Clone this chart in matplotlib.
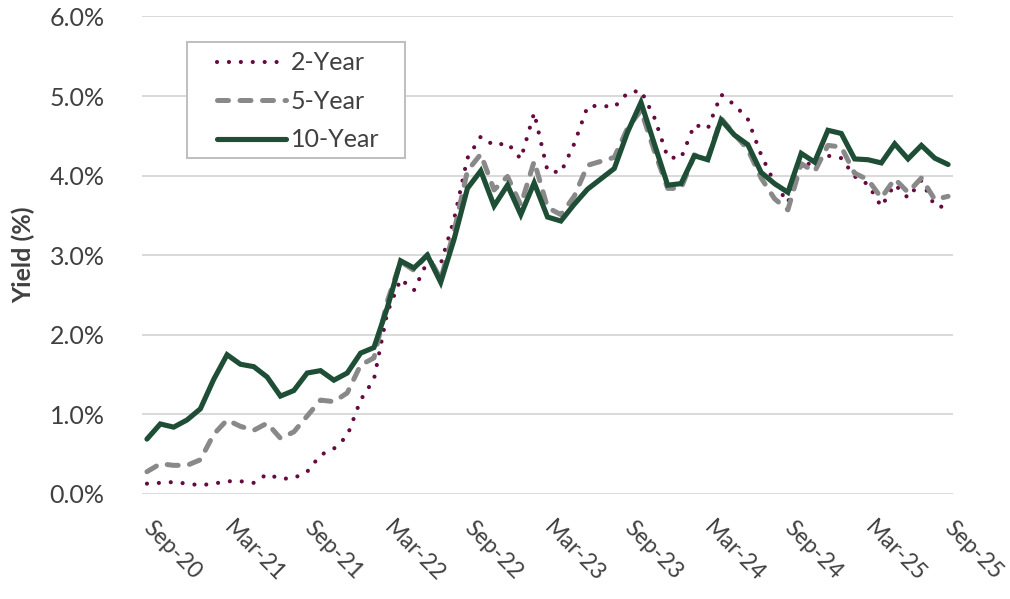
import numpy as np
import matplotlib
matplotlib.use('Agg')
import matplotlib.pyplot as plt
from matplotlib.patches import Rectangle
from matplotlib.ticker import FuncFormatter

plt.rcParams['font.family'] = ['Lato', 'DejaVu Sans']

# ─── Data: month-end Treasury yields, Sep-20 .. Sep-25 ──────────────────────
months = ['Sep-20', 'Oct-20', 'Nov-20', 'Dec-20', 'Jan-21', 'Feb-21', 'Mar-21', 'Apr-21',
          'May-21', 'Jun-21', 'Jul-21', 'Aug-21', 'Sep-21', 'Oct-21', 'Nov-21', 'Dec-21',
          'Jan-22', 'Feb-22', 'Mar-22', 'Apr-22', 'May-22', 'Jun-22', 'Jul-22', 'Aug-22',
          'Sep-22', 'Oct-22', 'Nov-22', 'Dec-22', 'Jan-23', 'Feb-23', 'Mar-23', 'Apr-23',
          'May-23', 'Jun-23', 'Jul-23', 'Aug-23', 'Sep-23', 'Oct-23', 'Nov-23', 'Dec-23',
          'Jan-24', 'Feb-24', 'Mar-24', 'Apr-24', 'May-24', 'Jun-24', 'Jul-24', 'Aug-24',
          'Sep-24', 'Oct-24', 'Nov-24', 'Dec-24', 'Jan-25', 'Feb-25', 'Mar-25', 'Apr-25',
          'May-25', 'Jun-25', 'Jul-25', 'Aug-25', 'Sep-25']

yield_2y = [0.13, 0.14, 0.15, 0.13, 0.11, 0.13, 0.16, 0.16, 0.14, 0.25, 0.19, 0.20,
            0.28, 0.49, 0.57, 0.73, 1.18, 1.44, 2.28, 2.70, 2.56, 2.92, 2.89, 3.45,
            4.22, 4.49, 4.38, 4.41, 4.21, 4.79, 4.06, 4.04, 4.40, 4.87, 4.88, 4.86,
            5.04, 5.07, 4.73, 4.23, 4.22, 4.64, 4.59, 5.02, 4.89, 4.71, 4.26, 3.91,
            3.66, 4.17, 4.13, 4.25, 4.22, 3.99, 3.89, 3.61, 3.89, 3.72, 3.94, 3.62,
            3.60]

yield_5y = [0.28, 0.38, 0.36, 0.36, 0.43, 0.75, 0.93, 0.85, 0.80, 0.89, 0.70, 0.78,
            0.98, 1.18, 1.16, 1.27, 1.62, 1.71, 2.42, 2.92, 2.81, 3.01, 2.70, 3.30,
            4.06, 4.27, 3.82, 3.99, 3.63, 4.18, 3.60, 3.51, 3.74, 4.13, 4.18, 4.23,
            4.60, 4.82, 4.31, 3.84, 3.84, 4.26, 4.21, 4.72, 4.52, 4.33, 3.97, 3.71,
            3.57, 4.15, 4.05, 4.38, 4.36, 4.03, 3.95, 3.72, 3.96, 3.79, 3.97, 3.70,
            3.74]

yield_10y = [0.69, 0.88, 0.84, 0.93, 1.07, 1.44, 1.75, 1.63, 1.60, 1.47, 1.23, 1.30,
             1.52, 1.55, 1.43, 1.52, 1.77, 1.84, 2.34, 2.93, 2.84, 3.00, 2.66, 3.20,
             3.84, 4.06, 3.62, 3.88, 3.51, 3.91, 3.48, 3.43, 3.64, 3.83, 3.96, 4.09,
             4.55, 4.92, 4.40, 3.88, 3.90, 4.25, 4.20, 4.70, 4.51, 4.39, 4.04, 3.90,
             3.79, 4.28, 4.17, 4.57, 4.53, 4.21, 4.20, 4.16, 4.40, 4.21, 4.38, 4.22,
             4.14]

tick_labels = months[::6]

COLOR_2Y = '#660A40'
COLOR_5Y = '#898989'
COLOR_10Y = '#1F4E37'
TEXT_COLOR = '#404040'

fig = plt.figure(figsize=(10.10, 5.99), dpi=100, facecolor='white')
ax = fig.add_axes([0.1406, 0.1753, 0.8030, 0.7972])

x = np.arange(len(months))
ax.plot(x, yield_2y, color=COLOR_2Y, linewidth=3.0, linestyle=(0, (0.01, 2.85)),
        dash_capstyle='round', label='2-Year', zorder=3)
ax.plot(x, yield_5y, color=COLOR_5Y, linewidth=3.6, linestyle=(0, (2.2, 2.3)),
        dash_capstyle='round', label='5-Year', zorder=4)
ax.plot(x, yield_10y, color=COLOR_10Y, linewidth=3.7, solid_joinstyle='miter',
        solid_capstyle='round', label='10-Year', zorder=5)

ax.set_xlim(-0.37, len(months) - 1 + 0.37)
ax.set_ylim(0, 6)
ax.set_yticks(np.arange(0, 6.01, 1.0))
ax.yaxis.set_major_formatter(FuncFormatter(lambda v, _: f'{v:.1f}%'))
ax.grid(axis='y', color='#D9D9D9', linewidth=1.4)
ax.set_axisbelow(True)
for s in ax.spines.values():
    s.set_visible(False)

ax.set_xticks(x[::6])
ax.set_xticklabels(tick_labels, rotation=-45, rotation_mode='anchor',
                   ha='left', va='center')
ax.tick_params(axis='both', length=0, labelsize=18, colors=TEXT_COLOR)
ax.tick_params(axis='x', labelsize=16.5, pad=22)
ax.tick_params(axis='y', pad=27)

ax.set_ylabel('Yield (%)', fontsize=18, fontweight='bold', color=TEXT_COLOR)
ax.yaxis.set_label_coords(-0.131, 0.5)

# legend: entries without frame, box drawn separately
leg = ax.legend(loc='upper left', bbox_to_anchor=(0.0925, 0.927), fontsize=18,
                frameon=False, handlelength=2.75, handletextpad=0.2,
                borderpad=0, labelspacing=0.62, borderaxespad=0)
for t in leg.get_texts():
    t.set_color(TEXT_COLOR)
ax.add_patch(Rectangle((0.0555, 0.7037), 0.2688, 0.2429, transform=ax.transAxes,
                       facecolor='white', edgecolor='#BFBFBF', linewidth=1.4,
                       zorder=6))
leg.set_zorder(7)

fig.savefig('out.png', dpi=100, facecolor='white')
